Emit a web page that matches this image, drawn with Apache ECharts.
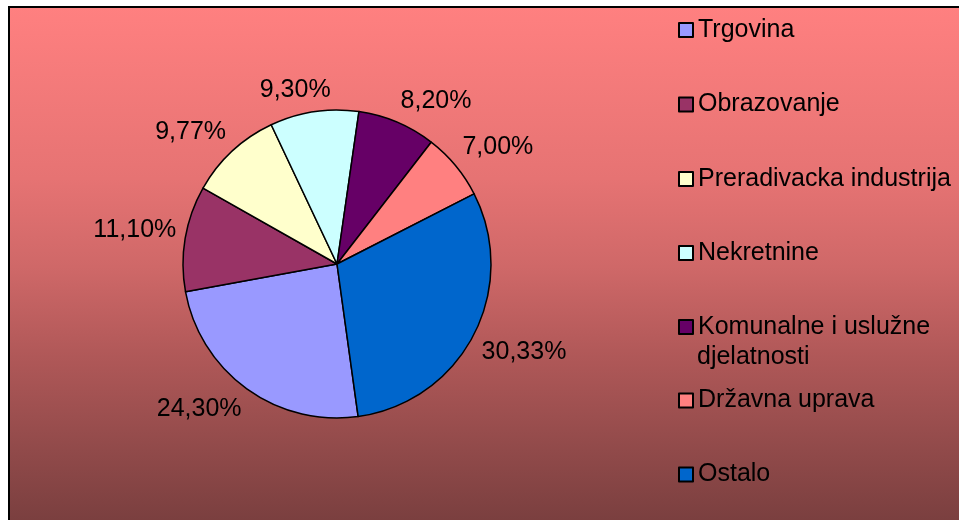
<!DOCTYPE html>
<html>
<head>
<meta charset="utf-8">
<script src="https://cdn.jsdelivr.net/npm/echarts@6/dist/echarts.min.js"></script>
<style>
  html, body { margin: 0; padding: 0; background: #fff; }
  #main { width: 959px; height: 520px; }
</style>
</head>
<body>
<div id="main"></div>
<script>
// sectors, in the order they appear in the legend
var names = ['Trgovina', 'Obrazovanje', 'Preradivacka industrija', 'Nekretnine',
  'Komunalne i uslužne djelatnosti', 'Državna uprava', 'Ostalo'];
var values = [24.30, 11.10, 9.77, 9.30, 8.20, 7.00, 30.33];
var colors = ['#9999FF', '#993366', '#FFFFCC', '#CCFFFF', '#660066', '#FF8080', '#0066CC'];
// legend text lines (the long one wraps onto a second line)
var legendLabels = ['Trgovina', 'Obrazovanje', 'Preradivacka industrija', 'Nekretnine',
  'Komunalne i uslužne', 'Državna uprava', 'Ostalo'];
var legendWrap = 'djelatnosti';

var font = '"Liberation Sans", Arial, sans-serif';
var cx = 337, cy = 264, R = 154;
var firstAngle = 172.1; // degrees clockwise from 12 o'clock
var legendCenters = [30, 104.5, 179, 253, 327, 400.5, 474.5];

var total = values.reduce(function (a, b) { return a + b; }, 0);
var midAngles = [];
var acc = 0;
values.forEach(function (v) {
  midAngles.push(firstAngle + (acc + v / 2) / total * 360);
  acc += v;
});

function clamp1(v) { return Math.max(-1, Math.min(1, v)); }

var myChart = echarts.init(document.getElementById('main'));

var legends = names.map(function (n, i) {
  return {
    data: [n],
    orient: 'vertical',
    left: 678,
    top: legendCenters[i] - 16,
    padding: 0,
    itemWidth: 14,
    itemHeight: 14,
    icon: 'rect',
    selectedMode: false,
    formatter: function () { return legendLabels[i]; },
    textStyle: { color: '#000', fontSize: 25, fontFamily: font, lineHeight: 32 }
  };
});

var option = {
  backgroundColor: '#fff',
  animation: false,
  graphic: [{
    type: 'rect',
    z: -10,
    shape: { x: 9, y: 7, width: 960, height: 520 },
    style: {
      fill: new echarts.graphic.LinearGradient(0, 0, 0, 1, [
        { offset: 0, color: '#FF8080' },
        { offset: 0.33, color: '#E67373' },
        { offset: 0.5, color: '#CF6868' },
        { offset: 0.67, color: '#B05858' },
        { offset: 0.85, color: '#914A4A' },
        { offset: 1, color: '#783E3E' }
      ]),
      stroke: '#000',
      lineWidth: 2
    }
  }, {
    type: 'text',
    left: 697,
    top: legendCenters[4] + 32 - 14,
    style: { text: legendWrap, fill: '#000', fontSize: 25, fontFamily: font }
  }],
  legend: legends,
  series: [{
    type: 'pie',
    center: [cx, cy],
    radius: R,
    startAngle: 90 - firstAngle,
    clockwise: true,
    avoidLabelOverlap: false,
    color: colors,
    itemStyle: { borderColor: '#000', borderWidth: 1.5 },
    label: {
      show: true,
      position: 'outside',
      color: '#000',
      fontSize: 25,
      fontFamily: font,
      formatter: function (p) {
        return p.value.toFixed(2).replace('.', ',') + '%';
      }
    },
    labelLine: { show: false },
    emphasis: { disabled: true },
    // label box sits just off the rim, its near corner facing the slice
    labelLayout: function (params) {
      var a = midAngles[params.dataIndex] * Math.PI / 180;
      var dx = Math.sin(a), dy = -Math.cos(a);
      var w = params.labelRect.width, h = params.labelRect.height;
      var d = R + 9;
      return {
        x: cx + dx * d + clamp1(dx / 0.3) * w / 2,
        y: cy + dy * d + clamp1(dy / 0.3) * h / 2,
        align: 'center',
        verticalAlign: 'middle'
      };
    },
    data: names.map(function (n, i) { return { name: n, value: values[i] }; })
  }]
};

myChart.setOption(option);
</script>
</body>
</html>
